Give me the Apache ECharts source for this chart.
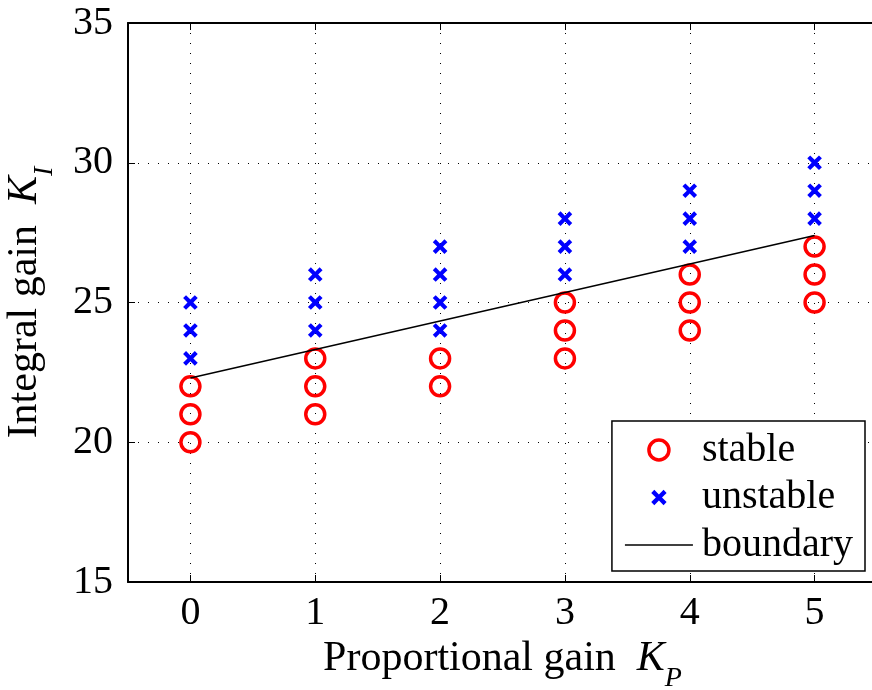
<!DOCTYPE html>
<html><head><meta charset="utf-8">
<script src="https://cdn.jsdelivr.net/npm/echarts@6/dist/echarts.min.js"></script>
<style>html,body{margin:0;padding:0;background:#fff}#c{width:872px;height:690px}</style>
</head><body><div id="c"></div>
<script>
const xTicks = [0, 1, 2, 3, 4, 5];
const yTicks = [15, 20, 25, 30, 35];
const stableKP = [0, 0, 0, 1, 1, 1, 2, 2, 3, 3, 3, 4, 4, 4, 5, 5, 5];
const stableKI = [20, 21, 22, 21, 22, 23, 22, 23, 23, 24, 25, 24, 25, 26, 25, 26, 27];
const unstableKP = [0, 0, 0, 1, 1, 1, 2, 2, 2, 2, 3, 3, 3, 4, 4, 4, 5, 5, 5];
const unstableKI = [23, 24, 25, 24, 25, 26, 24, 25, 26, 27, 26, 27, 28, 27, 28, 29, 28, 29, 30];
const boundaryKP = [0, 5];
const boundaryKI = [22.3, 27.4];

const font = '"Liberation Serif", "Times New Roman", serif';
const zip = (a, b) => a.map((v, i) => [v, b[i]]);
// cross with invisible padding (move-to points) so the visible X is smaller than the symbol box
const crossPath = 'path://M-1.5,-1.5 M11.5,11.5 M2,0 L5,3 L8,0 L10,2 L7,5 L10,8 L8,10 L5,7 L2,10 L0,8 L3,5 L0,2 Z';
const titleRich = {
  n: {fontFamily: font, fontSize: 42, color: '#000', padding: [0, 0, 20, 0]},
  i: {fontFamily: font, fontSize: 42, fontStyle: 'italic', color: '#000', padding: [0, 0, 20, 0]},
  sub: {fontFamily: font, fontSize: 28, fontStyle: 'italic', color: '#000', padding: [20, 0, 0, 0]}
};

const chart = echarts.init(document.getElementById('c'), null, {renderer: 'canvas'});
chart.setOption({
  animation: false,
  backgroundColor: '#fff',
  grid: {left: 128, top: 23, right: -5, bottom: 108, containLabel: false, outerBoundsMode: 'none'},
  xAxis: [{
    type: 'value', min: -0.5, max: 5.5, interval: 0.5,
    axisLine: {show: true, onZero: false, lineStyle: {color: '#000', width: 2}},
    axisTick: {show: true, inside: true, length: 7, lineStyle: {color: '#000', width: 1},
      customValues: xTicks},
    axisLabel: {color: '#000', fontFamily: font, fontSize: 40, margin: 11, customValues: xTicks},
    splitLine: {show: true, lineStyle: {color: '#000', width: 1, type: [1, 9]}},
    name: '{n|Proportional gain  }{i|K}{sub|P}',
    nameLocation: 'middle', nameGap: 54,
    nameTextStyle: {color: '#000', fontFamily: font, fontSize: 42, rich: titleRich}
  }, {
    type: 'value', min: -0.5, max: 5.5, position: 'top',
    axisLine: {show: true, onZero: false, lineStyle: {color: '#000', width: 2}},
    axisTick: {show: true, inside: true, length: 7, lineStyle: {color: '#000', width: 1}, customValues: xTicks},
    axisLabel: {show: false},
    splitLine: {show: false}
  }],
  yAxis: [{
    type: 'value', min: 15, max: 35, interval: 5,
    axisLine: {show: true, onZero: false, lineStyle: {color: '#000', width: 2}},
    axisTick: {show: true, inside: true, length: 7, lineStyle: {color: '#000', width: 1}},
    axisLabel: {color: '#000', fontFamily: font, fontSize: 40, margin: 15},
    splitLine: {show: true, lineStyle: {color: '#000', width: 1, type: [1, 9]}},
    name: '{n|Integral gain  }{i|K}{sub|I}',
    nameLocation: 'middle', nameGap: 62,
    nameTextStyle: {color: '#000', fontFamily: font, fontSize: 42, rich: titleRich}
  }],
  legend: {
    right: 7, bottom: 119, orient: 'vertical',
    backgroundColor: '#fff', borderColor: '#000', borderWidth: 1.5,
    padding: [9, 12, 6, 13], itemGap: 7.5, itemWidth: 68, itemHeight: 20,
    textStyle: {color: '#000', fontFamily: font, fontSize: 40, padding: [0, 0, 0, 4]},
    data: [
      {name: 'stable', icon: 'circle',
        itemStyle: {color: 'rgba(0,0,0,0)', borderColor: '#ff0000', borderWidth: 3.5}},
      {name: 'unstable'},
      {name: 'boundary', icon: 'path://M0,0 L68,0 L68,1.5 L0,1.5 Z', itemStyle: {color: '#000'}}
    ]
  },
  series: [{
    name: 'stable', type: 'scatter', data: zip(stableKP, stableKI),
    symbol: 'circle', symbolSize: 19,
    itemStyle: {color: 'rgba(0,0,0,0)', borderColor: '#ff0000', borderWidth: 3.5, opacity: 1}, z: 3
  }, {
    name: 'unstable', type: 'scatter', data: zip(unstableKP, unstableKI),
    symbol: crossPath, symbolSize: 19,
    itemStyle: {color: '#0000ff', opacity: 1}, z: 3
  }, {
    name: 'boundary', type: 'line', data: zip(boundaryKP, boundaryKI),
    symbol: 'none', lineStyle: {color: '#000', width: 1.5}, itemStyle: {color: '#000'}, z: 4
  }]
});
</script></body></html>
